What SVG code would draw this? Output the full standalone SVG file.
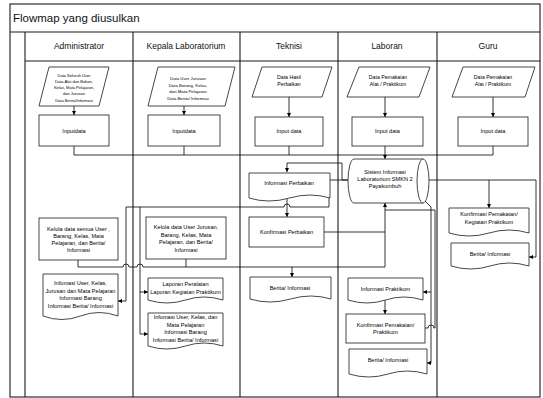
<svg xmlns="http://www.w3.org/2000/svg" width="543" height="398" viewBox="0 0 543 398">
<style>
.lane{fill:none;stroke:#1a1a1a;stroke-width:1.1}
.box{fill:#fff;stroke:#333;stroke-width:0.9}
.cn{fill:none;stroke:#000;stroke-width:0.8}
.t{font-family:"Liberation Sans",Arial,sans-serif;font-size:5.6px;text-anchor:middle;fill:#000}
.p4{font-size:4px}
.p5{font-size:5.2px}
.h{font-family:"Liberation Sans",Arial,sans-serif;font-size:8.5px;text-anchor:middle;fill:#111}
</style>
<defs>
<marker id="ah" viewBox="0 0 6 6" refX="6" refY="3" markerWidth="4" markerHeight="4" markerUnits="userSpaceOnUse" orient="auto"><path d="M0,0 L6,3 L0,6 z" fill="#000"/></marker>
</defs>
<rect width="543" height="398" fill="#fff"/>
<g id="frame">
<rect class="lane" x="10" y="4" width="530" height="393"/>
<line class="lane" x1="10" y1="32" x2="540" y2="32"/>
<line class="lane" x1="25" y1="32" x2="25" y2="397"/>
<line class="lane" x1="25" y1="61" x2="540" y2="61"/>
<line class="lane" x1="133" y1="32" x2="133" y2="397"/>
<line class="lane" x1="240" y1="32" x2="240" y2="397"/>
<line class="lane" x1="338" y1="32" x2="338" y2="397"/>
<line class="lane" x1="437" y1="32" x2="437" y2="397"/>
<text x="13" y="22" font-family="Liberation Sans,Arial,sans-serif" font-size="11.5" fill="#111">Flowmap yang diusulkan</text>
<text class="h" x="79" y="49">Administrator</text>
<text class="h" x="186" y="49">Kepala Laboratorium</text>
<text class="h" x="289" y="49">Teknisi</text>
<text class="h" x="387" y="49">Laboran</text>
<text class="h" x="488" y="49">Guru</text>
</g>
<g id="connectors">
<path class="cn" d="M74,106 V115" marker-end="url(#ah)"/>
<path class="cn" d="M184,106 V115" marker-end="url(#ah)"/>
<path class="cn" d="M289,97 V117" marker-end="url(#ah)"/>
<path class="cn" d="M385,97 V117" marker-end="url(#ah)"/>
<path class="cn" d="M493,97 V117" marker-end="url(#ah)"/>
<path class="cn" d="M74,146 V155 H385"/>
<path class="cn" d="M184,146 V155"/>
<path class="cn" d="M289,146 V155"/>
<path class="cn" d="M493,146 V155 H385"/>
<path class="cn" d="M385,146 V159" marker-end="url(#ah)"/>
<path class="cn" d="M348,180 H342 V163 H287 V172" marker-end="url(#ah)"/>
<path class="cn" d="M348,180 H329 V207 H290 a3,3 0 0 0 -6,0 H126 V301 H118" marker-end="url(#ah)"/>
<path class="cn" d="M140,207 V292 H148" marker-end="url(#ah)"/>
<path class="cn" d="M140,292 V334 H148" marker-end="url(#ah)"/>
<path class="cn" d="M287,199 V217" marker-end="url(#ah)"/>
<path class="cn" d="M324,232 H385"/>
<path class="cn" d="M385,267 V203" marker-end="url(#ah)"/>
<path class="cn" d="M78,260 V267 H123 a3,3 0 0 1 6,0 H137 a3,3 0 0 1 6,0 H385"/>
<path class="cn" d="M186,259 V267"/>
<path class="cn" d="M292,267 V277" marker-end="url(#ah)"/>
<path class="cn" d="M425,328 H428 a3,3 0 0 1 6,0 H435 V210 H385"/>
<path class="cn" d="M424,200 L431,207 V292 H423" marker-end="url(#ah)"/>
<path class="cn" d="M431,292 V363 H427" marker-end="url(#ah)"/>
<path class="cn" d="M429,180 H536 V257 H529" marker-end="url(#ah)"/>
<path class="cn" d="M489,180 V208" marker-end="url(#ah)"/>
<path class="cn" d="M385,300 V314" marker-end="url(#ah)"/>
</g>
<g id="admin_data"><polygon class="box" points="49,67 109,67 99,106 39,106"/>
<text class="t p4" x="74"><tspan x="74" y="76.5">Data Seluruh User</tspan><tspan x="74" y="82.8">Data Alat dan Bahan,</tspan><tspan x="74" y="89.1">Kelas, Mata Pelajaran,</tspan><tspan x="74" y="95.4">dan Jurusan</tspan><tspan x="74" y="101.7">Data Berita/Informasi</tspan></text></g>
<g id="admin_input"><rect class="box" x="39" y="115" width="70" height="31"/><text class="t" x="74" y="132.5">Inputdata</text></g>
<g id="admin_kelola"><rect class="box" x="39" y="218" width="79" height="42"/>
<text class="t"><tspan x="78.5" y="231">Kelola data semua User ,</tspan><tspan x="78.5" y="238">Barang, Kelas, Mata</tspan><tspan x="78.5" y="245">Pelajaran, dan Berita/</tspan><tspan x="78.5" y="252">Informasi</tspan></text></g>
<g id="admin_info"><path class="box" d="M43,274 H118 V316 Q99,309 80.5,316 T43,316 Z"/>
<text class="t"><tspan x="80.5" y="285">Infomasi User, Kelas,</tspan><tspan x="80.5" y="292.5">Jurusan dan Mata Pelajaran</tspan><tspan x="80.5" y="300">Informasi Barang</tspan><tspan x="80.5" y="307.5">Informasi Berita/ Informasi</tspan></text></g>
<g id="kepala_data"><polygon class="box" points="158,67 235,67 225,106 148,106"/>
<text class="t" style="font-size:4.3px"><tspan x="188" y="80">Data User Jurusan</tspan><tspan x="188" y="86.5">Data Barang, Kelas,</tspan><tspan x="188" y="93">dan Mata Pelajaran</tspan><tspan x="188" y="99.5">Data Berita/ Informasi</tspan></text></g>
<g id="kepala_input"><rect class="box" x="148" y="115" width="72" height="31"/><text class="t" x="184" y="132.5">Inputdata</text></g>
<g id="kepala_kelola"><rect class="box" x="146" y="217" width="80" height="42"/>
<text class="t"><tspan x="186" y="229">Kelola data User Jurusan,</tspan><tspan x="186" y="236.5">Barang, Kelas, Mata</tspan><tspan x="186" y="244">Pelajaran, dan Berita/</tspan><tspan x="186" y="251.5">Informasi</tspan></text></g>
<g id="kepala_laporan"><path class="box" d="M148,278 H223 V300 Q204,294 185.5,300 T148,300 Z"/>
<text class="t"><tspan x="185.5" y="286">Laporan Peralatan</tspan><tspan x="185.5" y="293.5">Laporan Kegiatan Praktikum</tspan></text></g>
<g id="kepala_info"><path class="box" d="M148,313 H223 V346 Q204,340 185.5,346 T148,346 Z"/>
<text class="t"><tspan x="185.5" y="319">Infomasi User, Kelas, dan</tspan><tspan x="185.5" y="326.5">Mata Pelajaran</tspan><tspan x="185.5" y="334">Informasi Barang</tspan><tspan x="185.5" y="341.5">Informasi Berita/ Informasi</tspan></text></g>
<g id="teknisi_data"><polygon class="box" points="262,67 332,67 322,97 252,97"/>
<text class="t p5"><tspan x="289" y="79">Data Hasil</tspan><tspan x="289" y="86">Perbaikan</tspan></text></g>
<g id="teknisi_input"><rect class="box" x="255" y="117" width="68" height="29"/><text class="t" x="289" y="133">Input data</text></g>
<g id="teknisi_infoperbaikan"><path class="box" d="M249,173 H330 V198 Q310,192 289.5,198 T249,198 Z"/><text class="t" x="289" y="185">Informasi Perbaikan</text></g>
<g id="teknisi_konfirmasi"><rect class="box" x="249" y="217" width="75" height="30"/><text class="t" x="286.5" y="234">Konfirmasi Perbaikan</text></g>
<g id="teknisi_berita"><path class="box" d="M250,277 H331 V299 Q311,293 290.5,299 T250,299 Z"/><text class="t" x="290" y="290">Berita/ Informasi</text></g>
<g id="laboran_data"><polygon class="box" points="359,67 430,67 419,97 347,97"/>
<text class="t p5"><tspan x="388" y="79">Data Pemakaian</tspan><tspan x="388" y="86">Alat / Praktikum</tspan></text></g>
<g id="laboran_input"><rect class="box" x="352" y="117" width="71" height="29"/><text class="t" x="387.5" y="133">Input data</text></g>
<g id="sistem"><path class="box" d="M354,159 H423 A6,22 0 0 1 423,203 H354 A6,22 0 0 1 354,159 Z"/><path class="box" fill="none" d="M423,159 A6,22 0 0 0 423,203"/>
<text class="t"><tspan x="385" y="174">Sistem Informasi</tspan><tspan x="385" y="181">Laboratorium SMKN 2</tspan><tspan x="385" y="188">Payakumbuh</tspan></text></g>
<g id="laboran_infopraktikum"><path class="box" d="M348,278 H423 V300 Q404,294 385.5,300 T348,300 Z"/><text class="t" x="385.5" y="291">Informasi Praktikum</text></g>
<g id="laboran_konfirmasi"><rect class="box" x="346" y="314" width="79" height="29"/>
<text class="t"><tspan x="385.5" y="326.5">Konfirmasi Pemakaian/</tspan><tspan x="385.5" y="334">Praktikum</tspan></text></g>
<g id="laboran_berita"><path class="box" d="M349,349 H427 V374 Q407,368 388,374 T349,374 Z"/><text class="t" x="388" y="362">Berita/ Informasi</text></g>
<g id="guru_data"><polygon class="box" points="463,67 535,67 525,97 452,97"/>
<text class="t p5"><tspan x="493" y="79">Data Pemakaian</tspan><tspan x="493" y="86">Alat / Praktikum</tspan></text></g>
<g id="guru_input"><rect class="box" x="458" y="117" width="70" height="29"/><text class="t" x="493" y="133">Input data</text></g>
<g id="guru_konfirmasi"><path class="box" d="M449,208 H529 V233 Q509,227 489,233 T449,233 Z"/>
<text class="t"><tspan x="489" y="216">Konfirmasi Pemakaian/</tspan><tspan x="489" y="223.5">Kegiatan Praktikum</tspan></text></g>
<g id="guru_berita"><path class="box" d="M451,243 H529 V266 Q509,260 490,266 T451,266 Z"/><text class="t" x="490" y="256">Berita/ Informasi</text></g>
</svg>
